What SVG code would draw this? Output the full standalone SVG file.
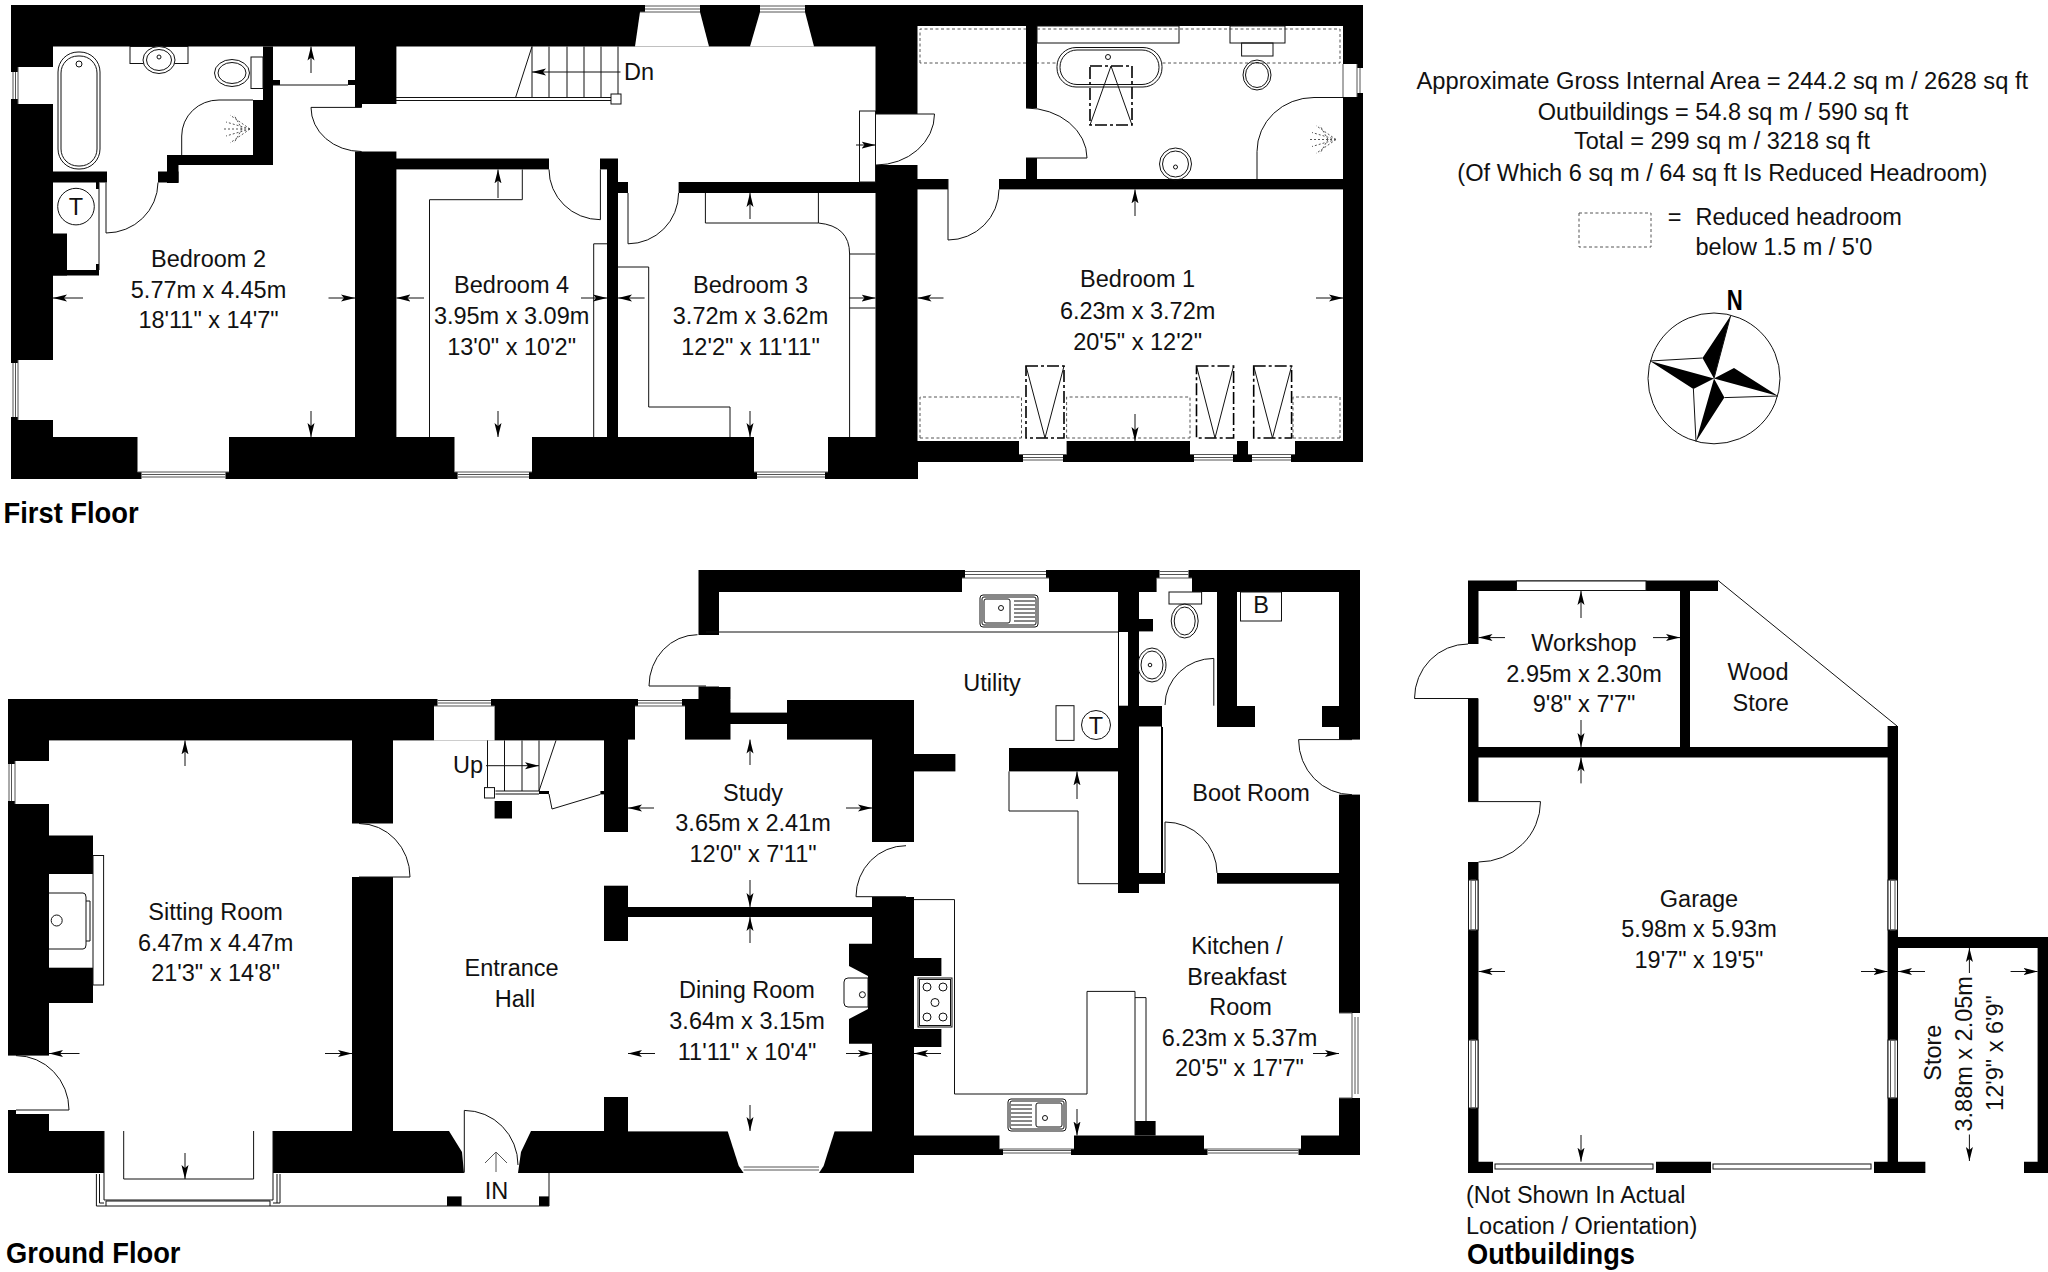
<svg xmlns="http://www.w3.org/2000/svg" width="2048" height="1272" viewBox="0 0 2048 1272">
<style>
text{font-family:"Liberation Sans",Arial,sans-serif;font-size:23.5px;fill:#111}
.c{text-anchor:middle}
.b{font-weight:bold;font-size:29.5px;fill:#000}
.k{fill:#000;stroke:none}
.w{fill:#fff;stroke:none}
.l{fill:none;stroke:#111;stroke-width:1}
.f{fill:#fff;stroke:#111;stroke-width:1}
.g{fill:none;stroke:#555;stroke-width:1}
.a{fill:none;stroke:#111;stroke-width:1;marker-end:url(#ah)}
.d{fill:none;stroke:#555;stroke-width:1;stroke-dasharray:3 2.5}
.s{fill:none;stroke:#000;stroke-width:1.6;stroke-dasharray:12 3 3 3}
</style>
<defs>
<marker id="ah" markerUnits="userSpaceOnUse" markerWidth="15" markerHeight="8" refX="14" refY="4" orient="auto"><path d="M0,0.5 L14,4 L0,7.5 L3,4 Z" fill="#000"/></marker>
<g id="sink"><rect x="0" y="0" width="58" height="32" rx="3" class="f"/><rect x="2" y="2" width="54" height="28" rx="2" class="l"/><rect x="4" y="4" width="26" height="24" rx="2" class="l"/><circle cx="21" cy="13" r="2.5" class="l"/><path class="l" d="M34,6H55M34,10H55M34,14H55M34,18H55M34,22H55M34,26H55"/></g>
<g id="spray"><path class="g" stroke-dasharray="2 2" d="M0,0L-20,-14M0,0L-24,-7M0,0L-26,0M0,0L-24,7M0,0L-20,14M-8,0L-16,-14M-8,0L-16,14"/></g>
</defs>

<g id="first-floor">
<path class="k" d="M11,5H1363V462H918V479H11Z"/>
<!-- rooms -->
<rect class="w" x="53" y="46.5" width="302" height="390.5"/>
<path class="w" d="M396.4,46.5H875.5V182H618V158.4H396.4Z"/>
<rect class="w" x="355" y="104" width="42" height="47.5"/>
<rect class="w" x="396.4" y="169.4" width="210.6" height="267.6"/>
<rect class="w" x="549" y="158" width="51" height="12"/>
<rect class="w" x="618" y="193" width="257.5" height="244"/>
<rect class="w" x="628" y="181" width="50.6" height="13"/>
<rect class="w" x="875" y="114" width="43" height="51"/>
<rect class="w" x="917.5" y="26" width="108.5" height="153"/>
<rect class="w" x="1037" y="26" width="306" height="153"/>
<rect class="w" x="1025" y="108" width="13" height="50"/>
<rect class="w" x="917.5" y="189.4" width="425.5" height="251.6"/>
<rect class="w" x="948" y="178" width="51" height="12"/>
<!-- internal walls bed 2 -->
<rect class="k" x="53" y="171.5" width="54" height="11"/>
<rect class="k" x="53" y="233.5" width="14" height="42"/>
<rect class="k" x="53" y="270" width="46" height="5.5"/>
<rect class="k" x="96" y="182" width="3" height="7"/>
<rect class="k" x="96" y="264" width="3" height="7"/>
<rect class="k" x="263" y="46.5" width="10" height="118.5"/>
<rect class="k" x="253" y="100" width="10" height="65"/>
<rect class="k" x="167" y="155" width="106" height="10"/>
<rect class="k" x="167" y="155" width="11.5" height="28"/>
<rect class="k" x="158" y="171.5" width="20.5" height="11"/>
<rect class="k" x="273" y="80" width="7" height="5"/>
<rect class="k" x="348" y="80" width="7" height="5"/>
<path class="l" d="M273,85H348"/>
<rect class="k" x="355" y="100" width="7" height="7.4"/>
<!-- windows -->
<rect class="w" x="18" y="67" width="35" height="37"/><rect class="w" x="11" y="72" width="8" height="27"/><path class="g" d="M13,72V99M15.5,72V99M18,67V104"/>
<rect class="w" x="18" y="360" width="35" height="60"/><rect class="w" x="11" y="363" width="8" height="54"/><path class="g" d="M13,363V417M15.5,363V417M18,360V420"/>
<rect class="w" x="137.5" y="437" width="91.5" height="35"/><rect class="w" x="141.5" y="472" width="84" height="7"/><path class="g" d="M137.5,472H229M141.5,474.5H225.5M141.5,477H225.5"/>
<rect class="w" x="454.5" y="437" width="77.5" height="35"/><rect class="w" x="457.6" y="472" width="71.4" height="7"/><path class="g" d="M454.5,472H532M457.6,474.5H529M457.6,477H529"/>
<rect class="w" x="754" y="437" width="74" height="35"/><rect class="w" x="757" y="472" width="68" height="7"/><path class="g" d="M754,472H828M757,474.5H825M757,477H825"/>
<path class="w" d="M640,12H700L709,46.5H635Z"/><rect class="w" x="645" y="5" width="55" height="7"/><path class="g" d="M645,6H700M645,9H700M640,12H700"/>
<path class="w" d="M760,12H805L814,46.5H750Z"/><rect class="w" x="760" y="5" width="45" height="7"/><path class="g" d="M760,6H805M760,9H805M760,12H805"/>
<rect class="w" x="1019" y="441" width="47.6" height="13.5"/><rect class="w" x="1023" y="454" width="40" height="8"/><path class="g" d="M1019,454.500H1066.600M1023,457.500H1063M1023,460H1063"/>
<rect class="w" x="1190" y="441" width="47" height="13.5"/><rect class="w" x="1194" y="454" width="39" height="8"/><path class="g" d="M1190,454.500H1237M1194,457.500H1233M1194,460H1233"/>
<rect class="w" x="1248" y="441" width="47" height="13.5"/><rect class="w" x="1252" y="454" width="39" height="8"/><path class="g" d="M1248,454.500H1295M1252,457.500H1291M1252,460H1291"/>
<rect class="w" x="1343" y="64" width="14" height="33"/><rect class="w" x="1356" y="68" width="7" height="25"/><path class="g" d="M1357,64V97M1360,68V93M1343,64V97"/>
<!-- doors -->
<path class="l" d="M106,182.500V233A52,51 0 0 0 158,182.500"/>
<path class="l" d="M361.600,107.400H311A50.600,44 0 0 0 361.600,151.500"/>
<path class="l" d="M600.400,169.400V219.700A51.400,50.300 0 0 1 549,169.400"/>
<path class="l" d="M628,193V243.800A50.600,50.800 0 0 0 678.600,193"/>
<path class="l" d="M876,114H934.500A58.500,51 0 0 1 876,165"/>
<path class="l" d="M948,179V240A51,50.600 0 0 0 999,189.400"/>
<path class="l" d="M1026,158H1087A61,50 0 0 0 1026,108"/>
<path class="l" d="M1343,97.500H1314A57,54 0 0 0 1257,151.500V179"/>
<path class="l" d="M253,100H219A37,36 0 0 0 181.700,136V155"/>
<!-- fittings bed 2 -->
<rect class="l" x="58" y="52" width="42" height="117" rx="20"/><rect class="l" x="61" y="56" width="36" height="110" rx="17"/><circle class="l" cx="79" cy="64" r="3"/>
<rect class="l" x="130" y="46.500" width="58" height="17"/><ellipse class="f" cx="159" cy="60" rx="16" ry="13.500"/><ellipse class="l" cx="159" cy="60" rx="12.500" ry="10.500"/><circle class="l" cx="159" cy="57" r="2"/>
<rect class="l" x="251" y="57" width="12" height="31.500"/><ellipse class="l" cx="232" cy="73" rx="17.500" ry="13.500"/><ellipse class="l" cx="232" cy="73" rx="14" ry="10.500"/>
<use href="#spray" x="250" y="129"/>
<path class="l" d="M99,182.500V270"/>
<circle class="l" cx="76" cy="206.600" r="18.300"/><text class="c" x="76" y="215">T</text>
<!-- stairs -->
<path class="l" d="M532,46.500L515.600,97.500M532,46.500V97.500M549,46.500V97.500M567,46.500V97.500M584,46.500V97.500M601,46.500V97.500M618,46.500V97.500"/>
<path class="l" d="M396,97.500H611M396,100.500H611"/><rect class="f" x="611" y="94" width="10" height="10"/>
<path class="a" d="M620.500,72H532"/>
<text x="624" y="80">Dn</text>
<!-- bed 4 / bed 3 lines -->
<path class="l" d="M522.300,169.400V199.700H429.500V437"/>
<path class="l" d="M593.700,437V243.800H607"/>
<path class="l" d="M618,267H648.700V407H730V437"/>
<path class="l" d="M705.400,193V223H818.400Q849.600,226 849.600,254V437M818.400,193V223M849.600,254H875.500M849.600,308H875.500"/>
<rect class="l" x="859.500" y="111" width="16" height="71"/>
<!-- bathroom 1 -->
<rect class="l" x="1037" y="26" width="142" height="17"/>
<path class="d" d="M920,63V29H1026M1037,29H1340V63H1037M1026,63H920"/>
<rect class="f" x="1057" y="47.500" width="105" height="39.500" rx="19"/><rect class="l" x="1060" y="50" width="99" height="34.500" rx="17"/><circle class="l" cx="1108" cy="57" r="2.500"/>
<path class="s" d="M1090,66H1132V125H1090Z"/><path class="l" d="M1111,66L1090,125M1111,66L1132,125"/>
<rect class="l" x="1230" y="26" width="55" height="17"/><rect class="l" x="1241.600" y="43" width="31.400" height="13"/><ellipse class="l" cx="1257" cy="75" rx="14" ry="15"/><ellipse class="l" cx="1257" cy="75" rx="11.500" ry="12.500"/>
<circle class="l" cx="1175.500" cy="164" r="16"/><circle class="l" cx="1175.500" cy="164" r="13"/><circle class="l" cx="1175.500" cy="167" r="2"/>
<use href="#spray" x="1336" y="139.500"/>
<!-- bed 1 reduced headroom + rooflights -->
<path class="d" d="M920,438V397H1021.500V438M1066.600,438V397H1190V438M1293,438V397H1340V438M920,438H1021.500M1066.600,438H1190M1293,438H1340"/>
<g id="skylights">
<path class="s" d="M1026,366H1064V438H1026Z"/><path class="l" d="M1026,366L1045,438L1064,366"/>
<path class="s" d="M1196.500,366H1233.600V438H1196.500Z"/><path class="l" d="M1196.500,366L1215,438L1233.600,366"/>
<path class="s" d="M1253.700,366H1291.600V438H1253.700Z"/><path class="l" d="M1253.700,366L1272.500,438L1291.600,366"/>
</g>
<!-- dimension arrows -->
<path class="a" d="M311,73V46.500"/><path class="a" d="M83,298H53"/><path class="a" d="M328.500,298H355"/><path class="a" d="M311,411V437"/>
<path class="a" d="M424,298H396.400"/><path class="a" d="M581,298H607"/><path class="a" d="M498,198V169.400"/><path class="a" d="M498,411V437"/>
<path class="a" d="M644.600,298H618"/><path class="a" d="M849,298H875.500"/><path class="a" d="M750,219V193"/><path class="a" d="M750,411V437"/>
<path class="a" d="M943.500,298H917.500"/><path class="a" d="M1316,298H1343"/><path class="a" d="M1135,216V189.400"/><path class="a" d="M1135,414V441"/>
<path class="a" d="M856,145H875.500"/>
<text class="c" x="208.500" y="267">Bedroom 2</text><text class="c" x="208.500" y="298">5.77m x 4.45m</text><text class="c" x="208.500" y="328">18'11" x 14'7"</text>
<text class="c" x="511.600" y="293">Bedroom 4</text><text class="c" x="511.600" y="324">3.95m x 3.09m</text><text class="c" x="511.600" y="355">13'0" x 10'2"</text>
<text class="c" x="750.500" y="293">Bedroom 3</text><text class="c" x="750.500" y="324">3.72m x 3.62m</text><text class="c" x="750.500" y="355">12'2" x 11'11"</text>
<text class="c" x="1137.600" y="287">Bedroom 1</text><text class="c" x="1137.600" y="318.500">6.23m x 3.72m</text><text class="c" x="1137.600" y="349.500">20'5" x 12'2"</text>
<text class="b" x="3.600" y="522.700" textLength="135" lengthAdjust="spacingAndGlyphs">First Floor</text>
</g>

<g id="ground-floor">
<path class="k" d="M8,699H698.500V570H1360V1155H914V1173H8Z"/>
<rect class="w" x="49" y="740.400" width="303" height="390.600"/>
<rect class="w" x="393" y="740.400" width="211" height="390.600"/>
<rect class="w" x="352" y="823.500" width="42" height="53.500"/>
<rect class="w" x="628" y="739.600" width="244" height="167.400"/>
<rect class="w" x="628" y="917" width="244" height="214.400"/>
<rect class="w" x="603" y="832" width="26" height="53.700"/>
<rect class="w" x="603" y="941" width="26" height="156"/>
<rect class="w" x="871" y="842" width="44" height="55"/>
<rect class="w" x="719" y="592" width="399" height="95"/>
<rect class="w" x="730.500" y="686" width="387.500" height="14"/>
<rect class="w" x="698" y="635" width="22" height="51.500"/>
<rect class="w" x="914" y="699" width="204" height="49"/>
<rect class="w" x="914" y="746" width="95" height="26"/>
<rect class="w" x="914" y="771.400" width="204" height="124"/>
<rect class="w" x="914" y="893" width="425" height="242.500"/>
<rect class="w" x="1139" y="883.700" width="200" height="11"/>
<rect class="w" x="1165" y="872" width="52" height="13"/>
<rect class="w" x="1163" y="726.500" width="176" height="146.500"/>
<rect class="w" x="1162" y="705" width="55" height="22"/>
<rect class="w" x="1255" y="705" width="67" height="22"/>
<rect class="w" x="1237" y="592" width="102" height="114"/>
<rect class="w" x="1139" y="592" width="78" height="114"/>
<rect class="w" x="1139" y="726.500" width="22" height="146.500"/>
<rect class="w" x="1119" y="632" width="9" height="73.700"/>
<rect class="w" x="1339" y="739.600" width="21" height="55"/>
<!-- black pieces -->
<rect class="k" x="914" y="754" width="41.400" height="17.400"/>
<rect class="k" x="914" y="958" width="27.400" height="18"/>
<rect class="k" x="914" y="1029" width="27.400" height="18"/>
<rect class="k" x="1135" y="1121" width="20.600" height="14.500"/>
<rect class="k" x="1139" y="619" width="14" height="12.400"/>
<rect class="k" x="1139" y="873" width="26" height="10.700"/>
<rect class="k" x="1217" y="706" width="38" height="21"/>
<rect class="k" x="1322" y="706" width="17" height="21"/>
<rect class="k" x="49" y="835.500" width="44" height="38.500"/>
<rect class="k" x="49" y="967.700" width="44" height="35.300"/>
<path class="k" d="M849,943.700H873V1043.700H849V1019L868,1009V976L849,966Z"/>
<rect class="k" x="494.600" y="801" width="17.400" height="17.500"/>
<rect class="k" x="447" y="1196.400" width="14.600" height="9.600"/>
<rect class="k" x="539" y="1196.400" width="10" height="9.600"/>
<rect class="k" x="539" y="791" width="10" height="3"/>
<rect class="k" x="600.400" y="791" width="4" height="3.400"/>
<!-- openings -->
<rect class="w" x="8" y="1055.600" width="41" height="54.400"/><rect class="w" x="16" y="1110" width="33" height="4"/>
<path class="w" d="M449,1131L462,1152L464,1173H518L521,1152L531,1131Z"/>
<rect class="w" x="104" y="1130" width="169" height="43"/>
<!-- windows -->
<rect class="w" x="15" y="761" width="34" height="43"/><rect class="w" x="8" y="764" width="8" height="37"/><path class="g" d="M9,764V801M11.500,764V801M15,761V804"/>
<rect class="w" x="434" y="706" width="60.600" height="34.500"/><rect class="w" x="437.500" y="699" width="53.500" height="7"/><path class="g" d="M437.500,700.500H491M437.500,703H491M434,706H494.600"/>
<rect class="w" x="635" y="706" width="50" height="34.500"/><rect class="w" x="638" y="699" width="44" height="7"/><path class="g" d="M638,700.500H682M638,703H682M635,706H685"/>
<rect class="w" x="730.500" y="699.600" width="56.500" height="13"/><rect class="w" x="730.500" y="724" width="56.500" height="16"/>
<rect class="w" x="962" y="578" width="87" height="14.500"/><rect class="w" x="965" y="570" width="81" height="8"/><path class="g" d="M965,571.500H1046M965,574.500H1046M962,578H1049"/>
<rect class="w" x="1156.600" y="578" width="35.400" height="14.500"/><rect class="w" x="1159.500" y="570" width="29" height="8"/><path class="g" d="M1159.500,571.500H1188.500M1159.500,574.500H1188.500M1156.600,578H1192"/>
<path class="w" d="M727.600,1131L834.700,1131L823.600,1166L819,1173H743.600L738.800,1166Z"/><path class="g" d="M743.600,1167H819M743.600,1170H819"/>
<rect class="w" x="999.500" y="1135" width="74.500" height="14"/><rect class="w" x="1003" y="1149" width="68" height="6"/><path class="g" d="M1003,1150.500H1071M1003,1153H1071M999.500,1149H1074"/>
<rect class="w" x="1204" y="1135" width="97" height="14"/><rect class="w" x="1207.500" y="1149" width="91" height="6"/><path class="g" d="M1207.500,1150.500H1298.500M1207.500,1153H1298.500M1204,1149H1301"/>
<rect class="w" x="1339" y="1013" width="21" height="85"/><path class="g" d="M1352,1013V1098M1355,1017V1094M1358,1017V1094M1339,1013H1352M1339,1098H1352"/>
<!-- bay & porch -->
<path class="l" d="M123.700,1131V1179H253.600V1131"/>
<path class="l" d="M104,1131V1200H273V1131"/>
<path class="l" d="M96.400,1174V1206H549V1173M99.500,1174V1203H104M106,1206V1201H270V1206M273,1203H280V1174M277,1174V1203"/>
<!-- doors -->
<path class="l" d="M359,877H410A51,53.500 0 0 0 359,823.500"/>
<path class="l" d="M16,1110H69A53,54.400 0 0 0 16,1055.600"/>
<path class="l" d="M464.300,1172.600V1110.400A53.700,54.600 0 0 1 518,1165"/>
<path class="l" d="M906,896.700H856A50,51 0 0 1 906,845.700"/>
<path class="l" d="M706,686H649A48.500,51.300 0 0 1 697.500,634.700"/>
<path class="l" d="M1213.800,705.700V658.400A48.800,47 0 0 0 1165,705"/>
<path class="l" d="M1352,739.600H1298.600A53.400,55 0 0 0 1352,794.700"/>
<path class="l" d="M1165,873V822A52,51 0 0 1 1217,873"/>
<!-- stairs -->
<path class="l" d="M487.500,740.400V787.600M504.500,740.400V791M522,740.400V791M539,740.400V791M556,740.400L539,791"/>
<path class="l" d="M495.500,791H539M495.500,794H539"/><rect class="f" x="484.500" y="787.600" width="10" height="10.400"/>
<path class="l" d="M549,794L552,809L600.400,794.400"/>
<path class="a" d="M486,765.700H539"/>
<text x="453" y="772.500">Up</text>
<!-- fire places -->
<rect class="l" x="93" y="855.500" width="10.600" height="129.500"/>
<path class="l" d="M49,893H83Q86,893 86,897V945Q86,949 83,949H49M86,901H90V941H86"/>
<circle class="l" cx="56.700" cy="920.500" r="5.500"/>
<path class="l" d="M868,978H848Q844,978 844,982V1003Q844,1007 848,1007H868Z"/><circle class="l" cx="862.400" cy="994.700" r="3"/>
<!-- kitchen / utility fittings -->
<path class="l" d="M706,632H1118M914,899.600H954.500V1094H1087V991.400H1135V1135.500M1135,997.600H1146V1121"/>
<path class="l" d="M1009,771.400V811H1078V883.700H1118"/>
<rect class="l" x="1056" y="705.700" width="18" height="34.700"/>
<circle class="l" cx="1096" cy="725" r="14.500"/><text class="c" x="1096" y="733.500">T</text>
<use href="#sink" x="980" y="595"/>
<use href="#sink" transform="translate(1066,1131) rotate(180)"/>
<g id="hob"><rect class="f" x="918" y="978" width="34" height="49"/><rect class="l" x="919.500" y="979.500" width="31" height="46"/><circle class="l" cx="927" cy="987" r="4"/><circle class="l" cx="943" cy="987" r="4"/><circle class="l" cx="935" cy="1002.500" r="4"/><circle class="l" cx="927" cy="1017" r="4"/><circle class="l" cx="943" cy="1017" r="4"/></g>
<rect class="l" x="1169" y="592" width="32.600" height="12"/><ellipse class="l" cx="1184.700" cy="621" rx="13.500" ry="17"/><ellipse class="l" cx="1184.700" cy="621" rx="10.500" ry="14"/>
<ellipse class="l" cx="1152" cy="665" rx="14" ry="17"/><ellipse class="l" cx="1152" cy="665" rx="11" ry="14"/><circle class="l" cx="1150" cy="665" r="1.800"/>
<rect class="l" x="1240.500" y="592" width="41" height="29"/><text class="c" x="1261" y="613">B</text>
<path class="g" d="M496,1172V1153M496,1152L485,1163M496,1152L507,1163"/>
<path class="a" d="M185,766V740.400"/><path class="a" d="M79.500,1053.500H49"/><path class="a" d="M325,1053.500H352"/><path class="a" d="M185,1153V1179"/>
<path class="a" d="M654,808H628"/><path class="a" d="M846,808H872"/><path class="a" d="M750,765V739.600"/><path class="a" d="M750,880V907"/>
<path class="a" d="M655,1053.500H628"/><path class="a" d="M846,1053.500H872"/><path class="a" d="M750,943V917"/><path class="a" d="M750,1105V1131"/>
<path class="a" d="M941,1053.500H914"/><path class="a" d="M1313,1053.500H1339"/><path class="a" d="M1077,1109V1135.500"/><path class="a" d="M1077,799V771.400"/>
<text class="c" x="215.600" y="920">Sitting Room</text><text class="c" x="215.600" y="950.700">6.47m x 4.47m</text><text class="c" x="215.600" y="981">21'3" x 14'8"</text>
<text class="c" x="511.600" y="976">Entrance</text><text class="c" x="515" y="1006.500">Hall</text>
<text class="c" x="496.600" y="1199">IN</text>
<text class="c" x="753" y="801">Study</text><text class="c" x="753" y="831.400">3.65m x 2.41m</text><text class="c" x="753" y="862">12'0" x 7'11"</text>
<text class="c" x="747" y="998">Dining Room</text><text class="c" x="747" y="1028.600">3.64m x 3.15m</text><text class="c" x="747" y="1060">11'11" x 10'4"</text>
<text class="c" x="992" y="691.400">Utility</text>
<text class="c" x="1251" y="800.800">Boot Room</text>
<text class="c" x="1237" y="954">Kitchen /</text><text class="c" x="1237" y="985">Breakfast</text><text class="c" x="1240.500" y="1015">Room</text><text class="c" x="1239.500" y="1045.700">6.23m x 5.37m</text><text class="c" x="1239.500" y="1076">20'5" x 17'7"</text>
<text class="b" x="6" y="1263" textLength="174.500" lengthAdjust="spacingAndGlyphs">Ground Floor</text>
</g>

<g id="outbuildings">
<path class="k" fill-rule="evenodd" d="M1468,580.400H1718V591H1690V747H1887.600V726H1898V937H2048V1173H2024V1161.700H1925.600V1173H1468ZM1478.500,591V747H1680V591ZM1478.500,757.500V1161.700H1887.600V757.500ZM1898,948V1161.700H2037.600V948Z"/>
<rect class="w" x="1925.600" y="1161" width="98.400" height="13"/>
<!-- openings -->
<rect class="w" x="1467" y="644" width="12" height="54.500"/>
<rect class="w" x="1467" y="801.600" width="12" height="60.400"/>
<rect class="f" x="1516.500" y="581" width="129.500" height="9.500"/>
<rect class="f" x="1468.500" y="880" width="9.500" height="50"/><rect class="g" x="1471" y="880" width="4.500" height="50"/>
<rect class="f" x="1468.500" y="1040" width="9.500" height="68"/><rect class="g" x="1471" y="1040" width="4.500" height="68"/>
<rect class="f" x="1888" y="880" width="9.500" height="50"/><rect class="g" x="1890.500" y="880" width="4.500" height="50"/>
<rect class="f" x="1888" y="1040" width="9.500" height="58"/><rect class="g" x="1890.500" y="1040" width="4.500" height="58"/>
<rect class="w" x="1493" y="1161" width="163" height="13"/><rect class="w" x="1711" y="1161" width="163" height="13"/>
<rect class="f" x="1495" y="1164" width="158" height="5"/><rect class="f" x="1713" y="1164" width="158" height="5"/>
<path class="l" d="M1718,580.400L1897,726"/>
<path class="l" d="M1478,698.500H1414.500A53.500,54.500 0 0 1 1468,644"/>
<path class="l" d="M1468,801.600H1540.500A62,60.400 0 0 1 1478.500,862"/>
<path class="a" d="M1581,618V591"/><path class="a" d="M1505,637.600H1478.500"/><path class="a" d="M1653,637.600H1680"/><path class="a" d="M1581,720V747"/>
<path class="a" d="M1581,783.400V757.500"/><path class="a" d="M1505,971.500H1478.500"/><path class="a" d="M1861,971.500H1887.600"/><path class="a" d="M1581,1135V1161.700"/>
<path class="a" d="M1925,971.500H1898"/><path class="a" d="M2010.600,971.500H2037.600"/><path class="a" d="M1969.400,973V948"/><path class="a" d="M1969.400,1134.500V1161"/>
<text class="c" x="1584" y="651">Workshop</text><text class="c" x="1584" y="681.700">2.95m x 2.30m</text><text class="c" x="1584" y="712">9'8" x 7'7"</text>
<text class="c" x="1758" y="680">Wood</text><text class="c" x="1760.700" y="710.800">Store</text>
<text class="c" x="1699" y="907.400">Garage</text><text class="c" x="1699" y="937">5.98m x 5.93m</text><text class="c" x="1699" y="967.800">19'7" x 19'5"</text>
<text class="c" transform="translate(1941,1052.700) rotate(-90)">Store</text>
<text class="c" transform="translate(1972,1053.800) rotate(-90)">3.88m x 2.05m</text>
<text class="c" transform="translate(2003,1053) rotate(-90)">12'9" x 6'9"</text>
<text x="1466" y="1202.600">(Not Shown In Actual</text><text x="1466" y="1233.500">Location / Orientation)</text>
<text class="b" x="1467" y="1264" textLength="168" lengthAdjust="spacingAndGlyphs">Outbuildings</text>
</g>

<g id="legend">
<text class="c" x="1722.300" y="89" textLength="611.600" lengthAdjust="spacingAndGlyphs">Approximate Gross Internal Area = 244.2 sq m / 2628 sq ft</text>
<text class="c" x="1723" y="119.500">Outbuildings = 54.8 sq m / 590 sq ft</text>
<text class="c" x="1722" y="149">Total = 299 sq m / 3218 sq ft</text>
<text class="c" x="1722.300" y="180.700" textLength="530" lengthAdjust="spacingAndGlyphs">(Of Which 6 sq m / 64 sq ft Is Reduced Headroom)</text>
<rect class="d" x="1579" y="213" width="72" height="34"/>
<text class="c" x="1674.500" y="224.800">=</text>
<text x="1695.500" y="224.800">Reduced headroom</text>
<text x="1695.500" y="255">below 1.5 m / 5'0</text>
<text class="c b" x="1734.700" y="310" textLength="16" lengthAdjust="spacingAndGlyphs">N</text>
<g id="compass">
<ellipse class="l" cx="1714" cy="378.400" rx="66" ry="65.400"/>
<path class="k" d="M1730.600,315.800L1702.500,358L1714,378.400ZM1650,361L1693.400,389L1714,378.400ZM1778,396L1734,368L1714,378.400ZM1696,441.600L1724.400,397.600L1714,378.400Z"/>
<path class="l" d="M1730.600,315.800L1714,378.400M1650,361L1702.500,358M1778,396L1724.400,397.600M1696,441.600L1693.400,389"/>
</g>
</g>
</svg>
